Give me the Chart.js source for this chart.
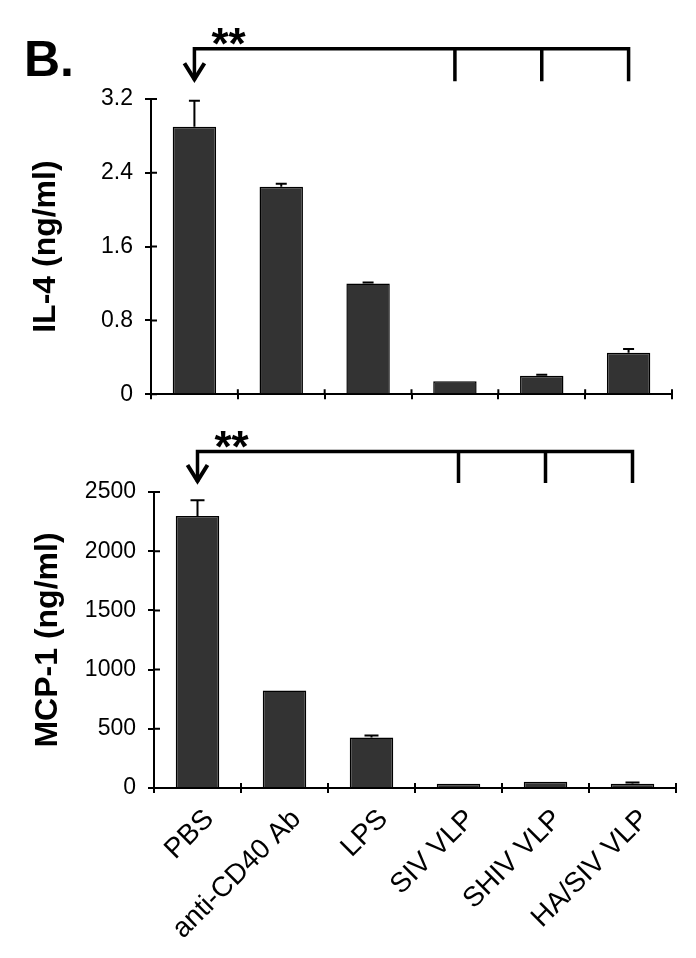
<!DOCTYPE html>
<html>
<head>
<meta charset="utf-8">
<script src="https://cdn.jsdelivr.net/npm/chart.js@4"></script>
<style>
  body { margin: 0; background: #fff; width: 696px; height: 958px; position: relative; overflow: hidden; }
  canvas { position: absolute; left: 0; }
  #graficoIL4 { top: 0; }
  #graficoMCP1 { top: 420px; }
</style>
</head>
<body>
<canvas id="graficoIL4" width="696" height="420"></canvas>
<canvas id="graficoMCP1" width="696" height="538"></canvas>
<script>
// categorias y valores
const categorias = ["PBS", "anti-CD40 Ab", "LPS", "SIV VLP", "SHIV VLP", "HA/SIV VLP"];
const valoresIL4 = [2.90, 2.25, 1.20, 0.14, 0.20, 0.45];
const erroresIL4 = [0.28, 0.03, 0.01, 0, 0.01, 0.04];
const valoresMCP1 = [2298, 824, 426, 35, 52, 35];
const erroresMCP1 = [133, 0, 18, 0, 0, 11];
const ticksIL4 = ["0", "0.8", "1.6", "2.4", "3.2"];
const ticksMCP1 = ["0", "500", "1000", "1500", "2000", "2500"];

const fuente = "'Liberation Sans', Arial, sans-serif";

// barras de error, marcas cruzadas y corchete de significancia
const extras = {
  id: "extras",
  afterDatasetsDraw(chart, args, opts) {
    const ctx = chart.ctx;
    const y = chart.scales.y;
    const meta = chart.getDatasetMeta(0);
    ctx.save();
    ctx.strokeStyle = "#000";
    ctx.lineWidth = 2;
    opts.errores.forEach((e, i) => {
      if (!e) return;
      const bar = meta.data[i];
      const yTop = y.getPixelForValue(opts.valores[i] + e);
      ctx.beginPath();
      ctx.moveTo(bar.x, bar.y);
      ctx.lineTo(bar.x, yTop);
      ctx.moveTo(bar.x - opts.cap / 2, yTop);
      ctx.lineTo(bar.x + opts.cap / 2, yTop);
      ctx.stroke();
    });
    ctx.restore();
  },
  afterDraw(chart, args, opts) {
    const ctx = chart.ctx;
    const x = chart.scales.x, y = chart.scales.y;
    ctx.save();
    ctx.strokeStyle = "#000";
    ctx.fillStyle = "#000";

    // mitad interior de las marcas (estilo cruzado)
    ctx.lineWidth = 2;
    ctx.beginPath();
    y.ticks.forEach((t, i) => {
      const py = y.getPixelForTick(i);
      ctx.moveTo(y.right, py);
      ctx.lineTo(y.right + 6, py);
    });
    for (let i = 0; i <= categorias.length; i++) {
      const px = x.getPixelForValue(i - 0.5);
      ctx.moveTo(px, x.top);
      ctx.lineTo(px, x.top - 5);
    }
    ctx.stroke();

    // corchete
    const b = opts.corchete;
    const yLinea = y.getPixelForValue(b.nivel);
    const yFin = y.getPixelForValue(b.fin);
    const xa = x.getPixelForValue(b.desde);
    const xs = b.hasta.map((i) => x.getPixelForValue(i));
    ctx.lineWidth = 3.5;
    ctx.lineJoin = "miter";
    ctx.beginPath();
    ctx.moveTo(xa - 1.75, yLinea);
    ctx.lineTo(Math.max(...xs) + 1.75, yLinea);
    xs.forEach((px) => {
      ctx.moveTo(px, yLinea);
      ctx.lineTo(px, yFin);
    });
    ctx.moveTo(xa, yLinea);
    ctx.lineTo(xa, yFin - 1);
    ctx.stroke();
    ctx.lineWidth = 4;
    ctx.beginPath();
    ctx.moveTo(xa - 10, yFin - 18);
    ctx.lineTo(xa, yFin - 2);
    ctx.lineTo(xa + 10, yFin - 18);
    ctx.stroke();

    ctx.font = "bold 44px " + fuente;
    ctx.textAlign = "left";
    ctx.textBaseline = "alphabetic";
    ctx.fillText("**", xa + 17, yLinea + 10);

    if (opts.panel) {
      ctx.font = "bold 50px " + fuente;
      ctx.fillText(opts.panel, 24, 76);
    }
    ctx.restore();
  }
};

function crearGrafico(id, valores, errores, ticks, titulo, cfg) {
  const ctx = document.getElementById(id).getContext("2d");
  return new Chart(ctx, {
    type: "bar",
    data: {
      labels: categorias,
      datasets: [{
        data: valores,
        backgroundColor: "#333333",
        borderColor: "#000",
        borderWidth: 1.5,
        barPercentage: 0.5,
        categoryPercentage: 1
      }]
    },
    options: {
      responsive: false,
      animation: false,
      devicePixelRatio: 1,
      layout: { padding: { top: cfg.arriba, right: cfg.derecha, left: 0, bottom: 0 } },
      plugins: {
        legend: { display: false },
        tooltip: { enabled: false },
        extras: {
          valores: valores,
          errores: errores,
          cap: cfg.cap,
          corchete: cfg.corchete,
          panel: cfg.panel
        }
      },
      scales: {
        x: {
          grid: { drawOnChartArea: false, color: "#000", lineWidth: 2, tickLength: 5, offset: true },
          border: { color: "#000", width: 2 },
          ticks: {
            display: cfg.etiquetas,
            autoSkip: false,
            minRotation: 45,
            maxRotation: 45,
            color: "#000",
            padding: 10,
            labelOffset: 12,
            font: { size: 28, family: fuente }
          },
          afterFit: (s) => { s.height = cfg.altoX; }
        },
        y: {
          min: 0,
          max: Number(ticks[ticks.length - 1]),
          ticks: {
            stepSize: Number(ticks[1]),
            color: "#000",
            padding: 12,
            font: { size: 23, family: fuente },
            callback: (v, i) => ticks[i]
          },
          grid: { drawOnChartArea: false, color: "#000", lineWidth: 2, tickLength: 6 },
          border: { color: "#000", width: 2 },
          title: {
            display: true,
            text: titulo,
            color: "#000",
            font: { size: 32, weight: "bold", family: fuente },
            padding: { top: cfg.tituloPad, bottom: 0 }
          },
          afterFit: (s) => { s.width = cfg.anchoY; }
        }
      }
    },
    plugins: [extras]
  });
}

crearGrafico("graficoIL4", valoresIL4, erroresIL4, ticksIL4, "IL-4 (ng/ml)", {
  arriba: 99, derecha: 24, anchoY: 151, altoX: 22, etiquetas: false, cap: 11, tituloPad: 27,
  corchete: { desde: 0, hasta: [3, 4, 5], nivel: 3.746, fin: 3.393 },
  panel: "B."
});

crearGrafico("graficoMCP1", valoresMCP1, erroresMCP1, ticksMCP1, "MCP-1 (ng/ml)", {
  arriba: 72, derecha: 20, anchoY: 154, altoX: 170, etiquetas: true, cap: 14, tituloPad: 29,
  corchete: { desde: 0, hasta: [3, 4, 5], nivel: 2842, fin: 2576 },
  panel: null
});
</script>
</body>
</html>
